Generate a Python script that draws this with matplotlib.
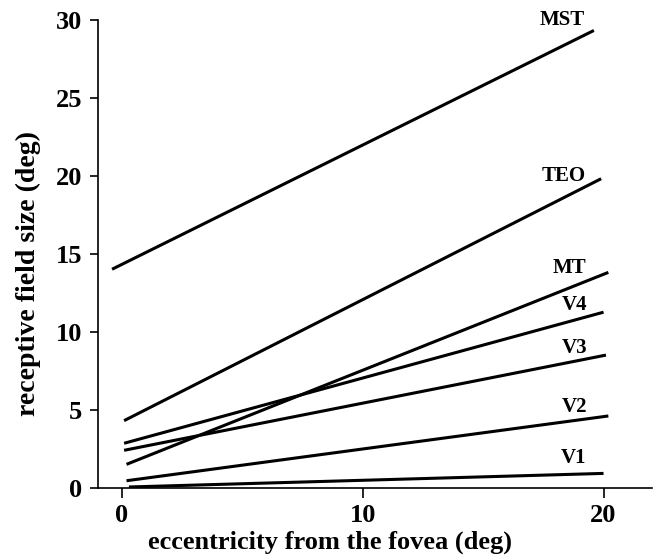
import matplotlib
matplotlib.use("Agg")
import matplotlib.pyplot as plt

# visual areas: (x0, y0) -> (x1, y1), receptive field size vs eccentricity
areas = ["MST", "TEO", "MT", "V4", "V3", "V2", "V1"]
x_start = [-0.4, 0.1, 0.2, 0.1, 0.1, 0.2, 0.3]
y_start = [14.0, 4.3, 1.5, 2.85, 2.4, 0.45, 0.05]
x_end = [19.6, 19.9, 20.2, 20.0, 20.1, 20.2, 20.0]
y_end = [29.3, 19.8, 13.8, 11.25, 8.5, 4.6, 0.92]

# label positions (centre of text)
label_x = [18.3, 18.35, 18.6, 18.8, 18.8, 18.8, 18.75]
label_y = [30.0, 20.0, 14.1, 11.7, 8.95, 5.2, 1.9]

plt.rcParams['font.family'] = ['Liberation Serif', 'DejaVu Serif']
plt.rcParams['font.weight'] = 'bold'

fig = plt.figure(figsize=(6.55, 5.6), dpi=100)
ax = fig.add_axes([0.149, 0.129, 0.846, 0.864])

for i in range(len(areas)):
    ax.plot([x_start[i], x_end[i]], [y_start[i], y_end[i]], color='black',
            lw=2.2, solid_capstyle='butt')
    ax.text(label_x[i], label_y[i], areas[i], ha='center', va='center',
            fontsize=15, fontweight='bold')

ax.set_xlim(-1, 22)
ax.set_ylim(0, 31)
ax.spines['top'].set_visible(False)
ax.spines['right'].set_visible(False)
ax.spines['left'].set_bounds(0, 30)
ax.spines['left'].set_linewidth(1.2)
ax.spines['bottom'].set_linewidth(1.2)

ax.set_xticks([0, 10, 20])
ax.set_yticks([0, 5, 10, 15, 20, 25, 30])
ax.tick_params(axis='x', length=7, width=1.2, pad=5, labelsize=19)
ax.tick_params(axis='y', length=6, width=1.2, pad=5, labelsize=19)
for lab in ax.get_xticklabels() + ax.get_yticklabels():
    lab.set_fontweight('bold')

ax.set_xlabel('eccentricity from the fovea (deg)', fontsize=19,
              fontweight='bold', va='center')
ax.set_ylabel('receptive field size (deg)', fontsize=20,
              fontweight='bold', va='center')
ax.xaxis.set_label_coords(0.419, -0.112)
ax.yaxis.set_label_coords(-0.124, 0.442)

fig.savefig('out.png', dpi=100)
